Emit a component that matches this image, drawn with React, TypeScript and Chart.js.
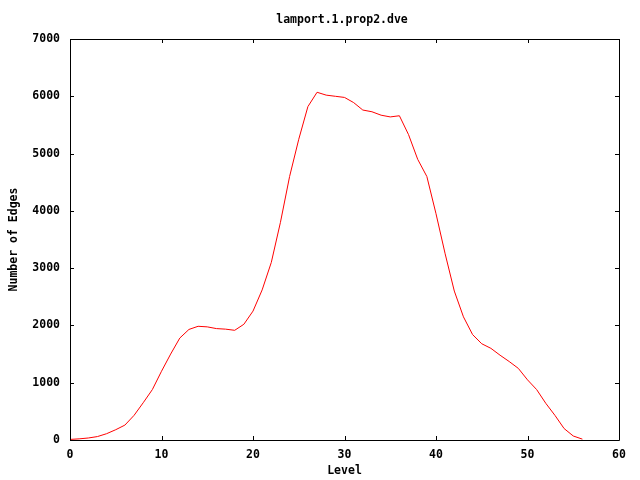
import React, { useEffect, useRef } from "react";
import { Chart, registerables } from "chart.js";

Chart.register(...registerables);

const TITLE = "lamport.1.prop2.dve";
const X_TITLE = "Level";
const Y_TITLE = "Number of Edges";

const levels = [
  0, 1, 2, 3, 4, 5, 6, 7, 8, 9, 10, 11, 12, 13, 14, 15, 16, 17, 18, 19, 20,
  21, 22, 23, 24, 25, 26, 27, 28, 29, 30, 31, 32, 33, 34, 35, 36, 37, 38, 39,
  40, 41, 42, 43, 44, 45, 46, 47, 48, 49, 50, 51, 52, 53, 54, 55, 56,
];
const edges = [
  10, 20, 35, 60, 110, 180, 260, 430, 650, 880, 1200, 1500, 1780, 1930, 1985,
  1975, 1945, 1935, 1915, 2020, 2250, 2620, 3100, 3800, 4600, 5250, 5820, 6070,
  6020, 6000, 5980, 5890, 5760, 5730, 5670, 5640, 5660, 5330, 4900, 4600, 3950,
  3250, 2600, 2150, 1840, 1680, 1600, 1480, 1370, 1250, 1050, 880, 640, 430,
  200, 70, 15,
];

const FONT = "'DejaVu Sans Mono', 'Liberation Mono', monospace";

const framePlugin = {
  id: "gnuplotFrame",
  afterDraw(chart: any) {
    const { ctx, chartArea } = chart;
    const { left, right, top, bottom } = chartArea;
    const xs = chart.scales.x;
    const ys = chart.scales.y;
    const TL = 4;
    ctx.save();
    ctx.strokeStyle = "#000";
    ctx.lineWidth = 1;
    ctx.beginPath();
    ctx.rect(Math.round(left) + 0.5, Math.round(top) + 0.5, Math.round(right - left), Math.round(bottom - top));
    xs.ticks.forEach((t: any) => {
      const px = Math.round(xs.getPixelForValue(t.value)) + 0.5;
      ctx.moveTo(px, bottom);
      ctx.lineTo(px, bottom - TL);
      ctx.moveTo(px, top);
      ctx.lineTo(px, top + TL);
    });
    ys.ticks.forEach((t: any) => {
      const py = Math.round(ys.getPixelForValue(t.value)) + 0.5;
      ctx.moveTo(left, py);
      ctx.lineTo(left + TL, py);
      ctx.moveTo(right, py);
      ctx.lineTo(right - TL, py);
    });
    ctx.stroke();

    ctx.fillStyle = "#000";
    ctx.font = `bold 11.5px ${FONT}`;
    ctx.textAlign = "center";
    ctx.textBaseline = "middle";
    ctx.fillText(TITLE, 342, 20);
    ctx.fillText(X_TITLE, (left + right) / 2, 471);
    ctx.translate(14, (top + bottom) / 2);
    ctx.rotate(-Math.PI / 2);
    ctx.fillText(Y_TITLE, 0, 0);
    ctx.restore();
  },
};

export default function App() {
  const ref = useRef<HTMLCanvasElement | null>(null);
  useEffect(() => {
    if (!ref.current) return;
    const chart = new Chart(ref.current, {
      type: "line",
      data: {
        datasets: [
          {
            data: levels.map((l, i) => ({ x: l, y: edges[i] })),
            borderColor: "#ff0000",
            borderWidth: 1,
            pointRadius: 0,
            tension: 0,
            fill: false,
          },
        ],
      },
      options: {
        animation: false,
        responsive: false,
        layout: { padding: { left: 0, right: 21, top: 39, bottom: 0 } },
        plugins: { legend: { display: false }, title: { display: false }, tooltip: { enabled: false } },
        scales: {
          x: {
            type: "linear",
            min: 0,
            max: 60,
            grid: { display: false, drawTicks: false },
            border: { display: false },
            ticks: {
              stepSize: 10,
              padding: 8,
              color: "#000",
              maxRotation: 0,
              font: { family: FONT, size: 11.5, weight: "bold" },
              callback: (v: any) => String(v),
            },
            afterFit(scale: any) {
              scale.height = 40;
            },
          },
          y: {
            type: "linear",
            min: 0,
            max: 7000,
            grid: { display: false, drawTicks: false },
            border: { display: false },
            ticks: {
              stepSize: 1000,
              padding: 10,
              color: "#000",
              font: { family: FONT, size: 11.5, weight: "bold" },
              callback: (v: any) => String(v),
            },
            afterFit(scale: any) {
              scale.width = 70;
            },
          },
        },
      } as any,
      plugins: [framePlugin],
    });
    return () => chart.destroy();
  }, []);
  return (
    <div style={{ position: "absolute", left: 0, top: 0, width: 640, height: 480, background: "#fff" }}>
      <canvas ref={ref} width={640} height={480} style={{ display: "block" }} />
    </div>
  );
}
